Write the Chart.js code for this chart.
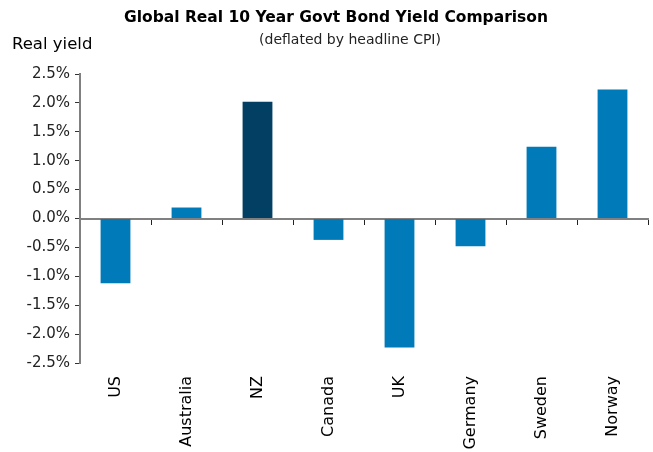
<!DOCTYPE html>
<html>
<head>
<meta charset="utf-8">
<script src="https://cdn.jsdelivr.net/npm/chart.js@4.4.1/dist/chart.umd.min.js"></script>
<style>
  html, body { margin: 0; padding: 0; background: #fff; }
  #wrap { width: 653px; height: 452px; position: relative; }
</style>
</head>
<body>
<div id="wrap"><canvas id="grafico"></canvas></div>
<script>
// Datos
const paises = ['US', 'Australia', 'NZ', 'Canada', 'UK', 'Germany', 'Sweden', 'Norway'];
const rendimiento = [-1.12, 0.19, 2.02, -0.37, -2.23, -0.48, 1.24, 2.23];
const colores = ['#007ab8', '#007ab8', '#023f63', '#007ab8', '#007ab8', '#007ab8', '#007ab8', '#007ab8'];
const tituloPrincipal = 'Global Real 10 Year Govt Bond Yield Comparison';
const subtitulo = '(deflated by headline CPI)';
const tituloEje = 'Real yield';

const fuente = 'DejaVu Sans';

// textos de cabecera dibujados en el canvas
const cabecera = {
    id: 'cabecera',
    afterDraw(chart) {
        const ctx = chart.ctx;
        ctx.save();
        ctx.fillStyle = '#000';
        ctx.textBaseline = 'middle';
        ctx.textAlign = 'center';
        ctx.font = 'bold 15.5px "' + fuente + '"';
        ctx.fillText(tituloPrincipal, 336, 18);
        ctx.font = '14px "' + fuente + '"';
        ctx.fillStyle = '#222';
        ctx.fillText(subtitulo, 350, 40);
        ctx.textAlign = 'left';
        ctx.font = '16.5px "' + fuente + '"';
        ctx.fillStyle = '#000';
        ctx.fillText(tituloEje, 12, 45);
        ctx.restore();
    }
};

const chartData = {
    labels: paises,
    datasets: [{
        label: 'Real yield',
        data: rendimiento,
        backgroundColor: colores,
        borderWidth: 0,
        categoryPercentage: 1,
        barPercentage: 0.42,
        xAxisID: 'x',
    }]
};

new Chart(document.getElementById('grafico'), {
    type: 'bar',
    data: chartData,
    plugins: [cabecera],
    options: {
        responsive: true,
        maintainAspectRatio: false,
        animation: false,
        layout: { padding: { top: 74, right: 5, left: 0, bottom: 0 } },
        plugins: {
            legend: { display: false },
            title: { display: false },
            tooltip: { enabled: false },
        },
        scales: {
            // eje en el cero, solo marcas
            x: {
                type: 'category',
                position: { y: 0 },
                offset: true,
                grid: { display: true, offset: true, drawOnChartArea: false, tickLength: 5, color: '#222', lineWidth: 1 },
                border: { display: true, color: '#808080', width: 2 },
                ticks: { display: false },
            },
            // eje inferior con los nombres
            x2: {
                type: 'category',
                labels: paises,
                position: 'bottom',
                offset: true,
                grid: { display: false },
                border: { display: false },
                ticks: {
                    minRotation: 90,
                    maxRotation: 90,
                    autoSkip: false,
                    padding: 5,
                    color: '#000',
                    font: { family: fuente, size: 16 },
                },
                afterFit(scale) { scale.height = 89; },
            },
            y: {
                min: -2.5,
                max: 2.5,
                grid: { drawOnChartArea: false, tickLength: 5, color: '#333' },
                border: { display: true, color: '#808080', width: 2 },
                ticks: {
                    stepSize: 0.5,
                    padding: 5,
                    color: '#222',
                    font: { family: fuente, size: 15 },
                    callback: (v) => v.toFixed(1) + '%',
                },
                afterFit(scale) { scale.width = 80; },
            }
        }
    }
});
</script>
</body>
</html>
